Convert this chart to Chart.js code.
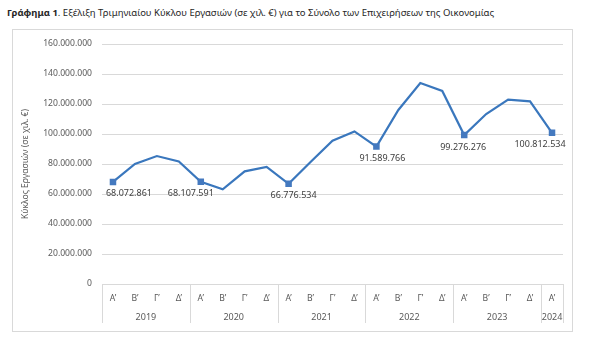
<!doctype html>
<html lang="el">
<head>
  <meta charset="utf-8">
  <title>Γράφημα 1</title>
  <style>
    * { margin: 0; padding: 0; }
    body { width: 600px; height: 358px; background: white; position: relative; overflow: hidden; font-family: 'Noto Sans', sans-serif; }
    .title { position: absolute; left: 7px; top: 6px; font-size: 9.5px; color: #262626; white-space: nowrap; }
    .frame { position: absolute; left: 12px; top: 29px; width: 559px; height: 301px; border: 1px solid #d9d9d9; }
    .chartBox { position: absolute; left: 0; top: 0; width: 600px; height: 358px; }
  </style>
</head>
<body>
  <div class="title"><b>Γράφημα 1</b>. Εξέλιξη Τριμηνιαίου Κύκλου Εργασιών (σε χιλ. €) για το Σύνολο των Επιχειρήσεων της Οικονομίας</div>
  <div class="frame"></div>
  <div class="chartBox"><canvas id="myChart" width="600" height="358"></canvas></div>

  <script src="https://cdn.jsdelivr.net/npm/chart.js"></script>
  <script>
    // data (thousand euro)
    const quarters = ['Α’','Β’','Γ’','Δ’','Α’','Β’','Γ’','Δ’','Α’','Β’','Γ’','Δ’','Α’','Β’','Γ’','Δ’','Α’','Β’','Γ’','Δ’','Α’'];
    const years = ['2019','2020','2021','2022','2023','2024'];
    const quartersPerYear = [4, 4, 4, 4, 4, 1];
    const turnover = [
      68072861, 80000000, 85300000, 81700000,
      68107591, 63100000, 75100000, 78000000,
      66776534, 81300000, 95500000, 101700000,
      91589766, 116000000, 134000000, 128700000,
      99276276, 113300000, 122900000, 121800000,
      100812534
    ];
    const yTicks = [0, 20000000, 40000000, 60000000, 80000000, 100000000, 120000000, 140000000, 160000000];

    // which points get a marker + value label, and a small manual shift of each label
    const labelledIdx = [0, 4, 8, 12, 16, 20];
    const labelShift = [16, -10, 5, 6, -1, -12];

    const fmt = v => String(v).replace(/\B(?=(\d{3})+(?!\d))/g, '.');
    const blue = '#3A77BD';
    const tickFont = { family: 'Noto Sans', size: 8.6 };

    // value labels under the Q1 markers
    const valueLabels = {
      id: 'valueLabels',
      afterDatasetsDraw(chart) {
        const ctx = chart.ctx;
        const meta = chart.getDatasetMeta(0);
        ctx.save();
        ctx.font = '9px "Noto Sans"';
        ctx.fillStyle = '#404040';
        ctx.textAlign = 'center';
        ctx.textBaseline = 'middle';
        labelledIdx.forEach((i, k) => {
          const p = meta.data[i];
          ctx.fillText(fmt(turnover[i]), p.x + labelShift[k], p.y + 12);
        });
        ctx.restore();
      }
    };

    // second row of the x axis: years with separators
    const yearAxis = {
      id: 'yearAxis',
      afterDraw(chart) {
        const ctx = chart.ctx;
        const x = chart.scales.x;
        const bottom = chart.chartArea.bottom;
        const half = (x.getPixelForValue(1) - x.getPixelForValue(0)) / 2;
        ctx.save();
        ctx.strokeStyle = '#d9d9d9';
        ctx.lineWidth = 1;
        ctx.font = '9px "Noto Sans"';
        ctx.fillStyle = '#595959';
        ctx.textAlign = 'center';
        ctx.textBaseline = 'middle';
        let start = 0;
        years.forEach((y, k) => {
          const end = start + quartersPerYear[k] - 1;
          const left = x.getPixelForValue(start) - half;
          const right = x.getPixelForValue(end) + half;
          ctx.beginPath();
          ctx.moveTo(Math.round(left) + 0.5, bottom);
          ctx.lineTo(Math.round(left) + 0.5, bottom + 39);
          ctx.stroke();
          if (k === years.length - 1) {
            ctx.beginPath();
            ctx.moveTo(Math.round(right) + 0.5, bottom);
            ctx.lineTo(Math.round(right) + 0.5, bottom + 39);
            ctx.stroke();
          }
          ctx.fillText(y, (left + right) / 2, bottom + 33);
          start = end + 1;
        });
        ctx.restore();
      }
    };

    const config = {
      type: 'line',
      data: {
        labels: quarters,
        datasets: [{
          data: turnover,
          borderColor: blue,
          backgroundColor: blue,
          borderWidth: 2.2,
          tension: 0,
          pointStyle: 'rect',
          pointRadius: ctx => labelledIdx.includes(ctx.dataIndex) ? 4.6 : 0,
          pointBorderWidth: 0,
          pointBackgroundColor: '#4479BF'
        }]
      },
      options: {
        responsive: false,
        animation: false,
        layout: { padding: { left: 12, right: 37, top: 44, bottom: 26 } },
        scales: {
          x: {
            offset: true,
            grid: { display: false, drawTicks: false },
            border: { display: false },
            ticks: { color: '#595959', font: tickFont, padding: 9, maxRotation: 0, autoSkip: false },
            afterFit: s => { s.height = 48; }
          },
          y: {
            min: 0,
            max: 160000000,
            afterBuildTicks: s => { s.ticks = yTicks.map(v => ({ value: v })); },
            grid: { color: '#d9d9d9', drawTicks: false },
            border: { display: false },
            ticks: { color: '#595959', font: tickFont, padding: 10, callback: v => fmt(v) },
            title: {
              display: true,
              text: 'Κύκλος Εργασιών (σε χιλ. €)',
              color: '#595959',
              font: { family: 'Noto Sans', size: 8.6 },
              padding: { top: 8, bottom: 0 }
            },
            afterFit: s => { s.width = 90; }
          }
        },
        plugins: {
          legend: { display: false },
          tooltip: { enabled: false }
        }
      },
      plugins: [valueLabels, yearAxis]
    };

    new Chart(document.getElementById('myChart'), config);
  </script>
</body>
</html>
